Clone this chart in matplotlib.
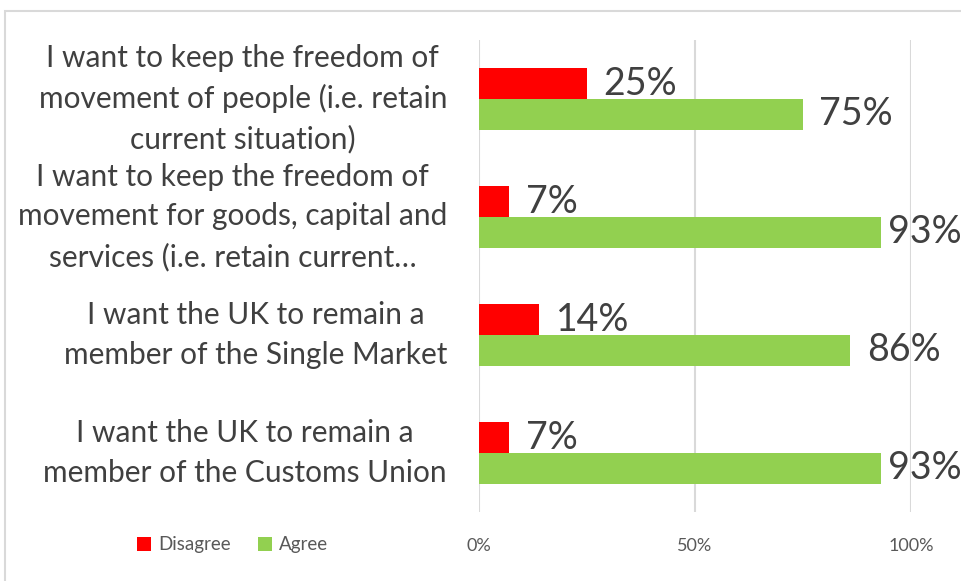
import matplotlib.pyplot as plt
from matplotlib.patches import Rectangle
from matplotlib.ticker import PercentFormatter

categories = [
    "I want to keep the freedom of\nmovement of people (i.e. retain\ncurrent situation)",
    "I want to keep the freedom of\nmovement for goods, capital and\nservices (i.e. retain current\u2026",
    "I want the UK to remain a\nmember of the Single Market",
    "I want the UK to remain a\nmember of the Customs Union",
]
disagree = [25, 7, 14, 7]
agree = [75, 93, 86, 93]
x_ticks = [0, 50, 100]

red = '#FF0000'
green = '#92D050'
dark = '#404040'
grey = '#595959'

plt.rcParams['font.family'] = ['Lato', 'DejaVu Sans']

fig = plt.figure(figsize=(9.62, 5.81), dpi=100)
ax = fig.add_axes([0.4979, 0.1188, 0.449, 0.8124])

h = 0.26
ys = list(range(len(categories)))
ax.barh([y - h / 2 for y in ys], disagree, height=h, color=red, label='Disagree', zorder=2)
ax.barh([y + h / 2 for y in ys], agree, height=h, color=green, label='Agree', zorder=2)

# value labels sit just past the bar end, pulled in when they would run off the right edge
gap = 3.8
for y, d, a in zip(ys, disagree, agree):
    ax.text(min(d + gap, 94.6), y - h / 2, f'{d}%', va='center', ha='left', fontsize=27, color=dark)
    ax.text(min(a + gap, 94.6), y + h / 2, f'{a}%', va='center', ha='left', fontsize=27, color=dark)

ax.set_xlim(0, 100)
ax.set_ylim(3.5, -0.5)
ax.set_xticks(x_ticks)
ax.xaxis.set_major_formatter(PercentFormatter(decimals=0))
ax.tick_params(axis='x', length=0, pad=19, labelsize=13, labelcolor=grey)
ax.set_yticks(ys)
ax.set_yticklabels(categories, multialignment='center', linespacing=1.5, va='center')
ax.tick_params(axis='y', length=0, pad=23, labelsize=21.5, labelcolor=dark)
ax.grid(axis='x', color='#D9D9D9', linewidth=1.5, zorder=0)
for s in ax.spines.values():
    s.set_visible(False)

ax.legend(loc='center left', bbox_to_anchor=(0.125, 0.062), bbox_transform=fig.transFigure,
          ncol=2, frameon=False, fontsize=13.5, labelcolor=grey,
          handlelength=0.75, handleheight=0.75, handletextpad=0.4, columnspacing=1.4)

# light frame around the chart area
fig.patches.append(Rectangle((5 / 962, -0.1), 1.1, 1.1 - 11 / 581, transform=fig.transFigure,
                             fill=False, edgecolor='#D9D9D9', linewidth=1.5))

fig.savefig('out.png', dpi=100)
